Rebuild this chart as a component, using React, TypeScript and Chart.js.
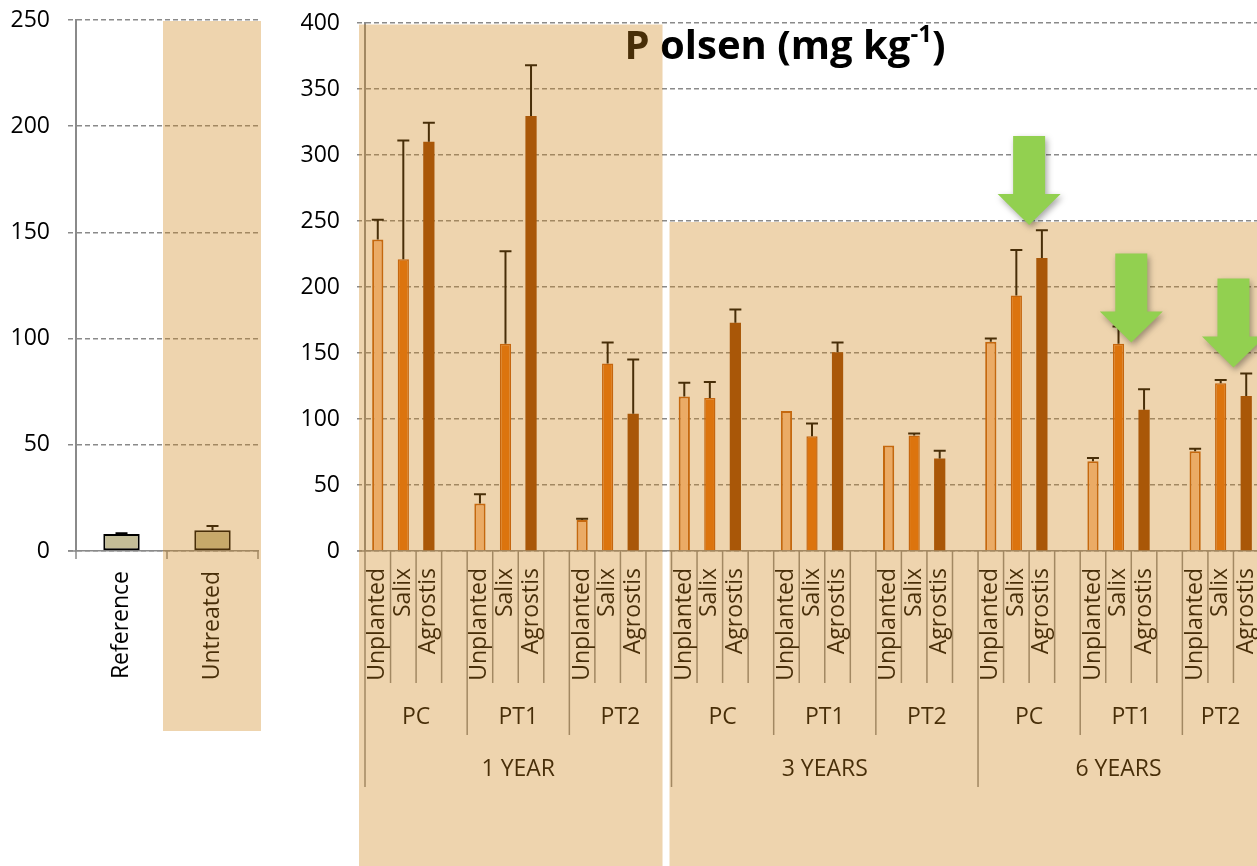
import React, { useEffect, useRef } from "react";
import { Chart, registerables } from "chart.js";

Chart.register(...registerables);
Chart.defaults.font.family = "'Open Sans', 'DejaVu Sans', sans-serif";

// ---------- DATA ----------
const years = ["1 YEAR", "3 YEARS", "6 YEARS"];
const treatments = ["PC", "PT1", "PT2"];
const plants = ["Unplanted", "Salix", "Agrostis"];

// one value per (year, treatment) group, in order 1Y-PC, 1Y-PT1, 1Y-PT2, 3Y-PC, ...
const unplanted = [236, 36, 23.5, 117, 106, 80, 158.5, 68, 75.5];
const unplantedSD = [15, 7, 1, 10.5, 0, 0, 2.5, 2.5, 2];
const salix = [221, 157, 142, 116, 87, 87.5, 193.5, 157, 127];
const salixSD = [90, 70, 16, 12, 9.5, 1.5, 34.5, 13, 2.5];
const agrostis = [310, 329.5, 104, 173, 150.5, 70, 222, 107, 117.5];
const agrostisSD = [14.5, 38.5, 41, 10, 7.5, 6, 21, 15.5, 17];

const controlLabels = ["Reference", "Untreated"];
const controlValues = [8, 9.8];
const controlSD = [0.3, 2];

const leftMax = 250;
const rightMax = 400;
const tickStep = 50;

// arrows: group index (year*3+treatment) and the value the arrow tip points to
const arrowGroups = [6, 7, 8];
const arrowTips = [247, 158, 139];

const titleMain = "P olsen (mg kg";
const titleSup = "-1";
const titleEnd = ")";

// ---------- derived slot layout ----------
const nGroups = years.length * treatments.length;
const SLOTS_PER_GROUP = plants.length + 1;
const nSlots = nGroups * SLOTS_PER_GROUP - 1;
const slotLabels: string[] = [];
for (let k = 0; k < nSlots; k++) {
  const p = k % SLOTS_PER_GROUP;
  slotLabels.push(p < plants.length ? plants[p] : "");
}
function spread(vals: number[], p: number) {
  const out: (number | null)[] = new Array(nSlots).fill(null);
  vals.forEach((v, g) => { out[g * SLOTS_PER_GROUP + p] = v; });
  return out;
}

const GRID = "#8a8a8a";
const SHADE = "rgba(206,132,24,0.35)";
const FONT = "'Open Sans', 'DejaVu Sans', sans-serif";
const LABEL_FONT = `23px ${FONT}`;

const errorBars = {
  id: "errorBars",
  afterDatasetsDraw(chart: any) {
    const { ctx } = chart;
    const y = chart.scales.y;
    ctx.save();
    ctx.strokeStyle = "#000";
    ctx.lineWidth = 2;
    chart.data.datasets.forEach((ds: any, i: number) => {
      const meta = chart.getDatasetMeta(i);
      (ds.sd || []).forEach((sd: number | null, j: number) => {
        const v = ds.data[j];
        if (v == null || sd == null || sd <= 0) return;
        const x = meta.data[j].x;
        const y0 = y.getPixelForValue(v);
        const y1 = y.getPixelForValue(v + sd);
        ctx.beginPath();
        ctx.moveTo(x, y0);
        ctx.lineTo(x, y1);
        ctx.moveTo(x - 6, y1);
        ctx.lineTo(x + 6, y1);
        ctx.stroke();
      });
    });
    ctx.restore();
  },
};

function shadeRect(ctx: CanvasRenderingContext2D, x0: number, y0: number, x1: number, y1: number) {
  ctx.save();
  ctx.fillStyle = SHADE;
  ctx.fillRect(x0, y0, x1 - x0, y1 - y0);
  ctx.restore();
}

const leftDecor = {
  id: "leftDecor",
  afterDraw(chart: any) {
    const { ctx, chartArea } = chart;
    const x = chart.scales.x;
    const y = chart.scales.y;
    const b = chartArea.bottom;
    const bnd = (k: number) => x.getPixelForValue(k - 0.5);
    ctx.save();
    ctx.strokeStyle = GRID;
    ctx.lineWidth = 1.5;
    for (let k = 0; k <= controlLabels.length; k++) {
      ctx.beginPath();
      ctx.moveTo(bnd(k), b);
      ctx.lineTo(bnd(k), b + 8);
      ctx.stroke();
    }
    ctx.beginPath();
    ctx.moveTo(chartArea.left - 8, b);
    ctx.lineTo(chartArea.left, b);
    ctx.stroke();
    ctx.fillStyle = "#000";
    ctx.font = LABEL_FONT;
    controlLabels.forEach((lab, i) => {
      ctx.save();
      ctx.translate(x.getPixelForValue(i), b + 20);
      ctx.rotate(-Math.PI / 2);
      ctx.textAlign = "right";
      ctx.textBaseline = "middle";
      ctx.fillText(lab, 0, 0);
      ctx.restore();
    });
    ctx.restore();
    shadeRect(ctx, bnd(1) - 4, y.getPixelForValue(leftMax) + 1, bnd(2) + 3, b + 180);
  },
};

const rightDecor = {
  id: "rightDecor",
  afterDraw(chart: any) {
    const { ctx, chartArea } = chart;
    const x = chart.scales.x;
    const y = chart.scales.y;
    const b = chartArea.bottom;
    const bnd = (k: number) => x.getPixelForValue(k - 0.5);
    const perYear = treatments.length * SLOTS_PER_GROUP;
    // ticks
    ctx.save();
    ctx.strokeStyle = GRID;
    ctx.lineWidth = 1.5;
    ctx.beginPath();
    ctx.moveTo(chartArea.left - 8, b);
    ctx.lineTo(chartArea.left, b);
    ctx.stroke();
    for (let k = 0; k <= nSlots; k++) {
      let len = 132;
      if (k % perYear === 0 || k === nSlots) len = 236;
      else if (k % SLOTS_PER_GROUP === 0) len = 184;
      ctx.beginPath();
      ctx.moveTo(bnd(k), b);
      ctx.lineTo(bnd(k), b + len);
      ctx.stroke();
    }
    ctx.fillStyle = "#000";
    ctx.font = LABEL_FONT;
    slotLabels.forEach((lab, k) => {
      if (!lab) return;
      ctx.save();
      ctx.translate(x.getPixelForValue(k), b + 17);
      ctx.rotate(-Math.PI / 2);
      ctx.textAlign = "right";
      ctx.textBaseline = "middle";
      ctx.fillText(lab, 0, 0);
      ctx.restore();
    });
    ctx.textAlign = "center";
    ctx.textBaseline = "middle";
    for (let g = 0; g < nGroups; g++) {
      const s = g * SLOTS_PER_GROUP;
      const e = Math.min(s + SLOTS_PER_GROUP, nSlots);
      ctx.fillText(treatments[g % treatments.length], (bnd(s) + bnd(e)) / 2, b + 166);
    }
    years.forEach((yr, i) => {
      const s = i * perYear;
      const e = Math.min(s + perYear, nSlots);
      ctx.fillText(yr, (bnd(s) + bnd(e)) / 2, b + 218);
    });
    // title
    const big = `bold 40px ${FONT}`;
    const small = `bold 24px ${FONT}`;
    ctx.font = big;
    const w1 = ctx.measureText(titleMain).width;
    const w3 = ctx.measureText(titleEnd).width;
    ctx.font = small;
    const w2 = ctx.measureText(titleSup).width;
    const cx = chartArea.left + 420;
    let tx = cx - (w1 + w2 + w3) / 2;
    const base = 59;
    ctx.textAlign = "left";
    ctx.textBaseline = "alphabetic";
    ctx.font = big;
    ctx.fillText(titleMain, tx, base);
    tx += w1;
    ctx.font = small;
    ctx.fillText(titleSup, tx, base - 17);
    tx += w2;
    ctx.font = big;
    ctx.fillText(titleEnd, tx, base);
    ctx.restore();

    // shaded overlays
    shadeRect(ctx, chartArea.left - 6, y.getPixelForValue(rightMax) + 1.5, bnd(perYear) - 9, chart.height + 10);
    shadeRect(ctx, bnd(perYear) - 2, y.getPixelForValue(250) + 1, chart.width + 10, chart.height + 10);

    // arrows
    ctx.save();
    ctx.fillStyle = "#92D050";
    ctx.shadowColor = "rgba(0,0,0,0.35)";
    ctx.shadowBlur = 6;
    ctx.shadowOffsetX = 2;
    ctx.shadowOffsetY = 3;
    arrowGroups.forEach((g, i) => {
      const ax = x.getPixelForValue(g * SLOTS_PER_GROUP + 1.5);
      const ty = y.getPixelForValue(arrowTips[i]);
      const shaft = 16, head = 31.5, headLen = 31, total = 89;
      ctx.beginPath();
      ctx.moveTo(ax - shaft, ty - total);
      ctx.lineTo(ax + shaft, ty - total);
      ctx.lineTo(ax + shaft, ty - headLen);
      ctx.lineTo(ax + head, ty - headLen);
      ctx.lineTo(ax, ty);
      ctx.lineTo(ax - head, ty - headLen);
      ctx.lineTo(ax - shaft, ty - headLen);
      ctx.closePath();
      ctx.fill();
    });
    ctx.restore();
  },
};

function yScale(max: number, width: number, pad: number) {
  return {
    min: 0,
    max,
    ticks: { stepSize: tickStep, color: "#000", font: { size: 23, lineHeight: 0.1 }, padding: pad },
    grid: { color: GRID, lineWidth: 1.5, tickLength: 8, tickColor: GRID, tickWidth: 1.5, tickBorderDash: [5, 3], borderDash: [5, 3] },
    border: { color: GRID, width: 2, dash: [5, 3] },
    afterFit: (s: any) => { s.width = width; },
  };
}

function xScale() {
  return {
    grid: { display: false },
    ticks: { display: false },
    border: { color: GRID, width: 1.5 },
    afterFit: (s: any) => { s.height = 315; },
  };
}

function LeftChart() {
  const ref = useRef<HTMLCanvasElement>(null);
  useEffect(() => {
    const chart = new Chart(ref.current as HTMLCanvasElement, {
      type: "bar",
      data: {
        labels: controlLabels,
        datasets: [
          {
            data: controlValues,
            sd: controlSD,
            backgroundColor: "#C4BD97",
            borderColor: "#000",
            borderWidth: 2,
            borderSkipped: false,
            barPercentage: 0.4,
            categoryPercentage: 1,
          } as any,
        ],
      },
      options: {
        animation: false,
        responsive: false,
        layout: { padding: { top: 20, right: 42, left: 0, bottom: 0 } },
        plugins: { legend: { display: false }, tooltip: { enabled: false }, title: { display: false } },
        scales: { x: xScale() as any, y: yScale(leftMax, 76, 18) as any },
      },
      plugins: [errorBars, leftDecor],
    });
    return () => chart.destroy();
  }, []);
  return <canvas ref={ref} width={300} height={866} style={{ position: "absolute", left: 0, top: 0 }} />;
}

function RightChart() {
  const ref = useRef<HTMLCanvasElement>(null);
  useEffect(() => {
    const common = { barPercentage: 0.44, categoryPercentage: 1, grouped: false };
    const chart = new Chart(ref.current as HTMLCanvasElement, {
      type: "bar",
      data: {
        labels: slotLabels,
        datasets: [
          { label: plants[0], data: spread(unplanted, 0), sd: spread(unplantedSD, 0), backgroundColor: "#FAC090", borderColor: "#C05A0A", borderWidth: 2, ...common } as any,
          { label: plants[1], data: spread(salix, 1), sd: spread(salixSD, 1), backgroundColor: "#E46C0A", borderColor: "#C0560A", borderWidth: 1.5, ...common } as any,
          { label: plants[2], data: spread(agrostis, 2), sd: spread(agrostisSD, 2), backgroundColor: "#954000", borderWidth: 0, ...common } as any,
        ],
      },
      options: {
        animation: false,
        responsive: false,
        layout: { padding: { top: 23, right: 6, left: 0, bottom: 0 } },
        plugins: { legend: { display: false }, tooltip: { enabled: false }, title: { display: false } },
        scales: { x: xScale() as any, y: yScale(rightMax, 85, 17) as any },
      },
      plugins: [errorBars, rightDecor],
    });
    return () => chart.destroy();
  }, []);
  return <canvas ref={ref} width={985} height={866} style={{ position: "absolute", left: 280, top: 0 }} />;
}

export default function App() {
  return (
    <div style={{ position: "fixed", left: 0, top: 0, width: 1257, height: 866, overflow: "hidden", background: "#fff" }}>
      <LeftChart />
      <RightChart />
    </div>
  );
}
